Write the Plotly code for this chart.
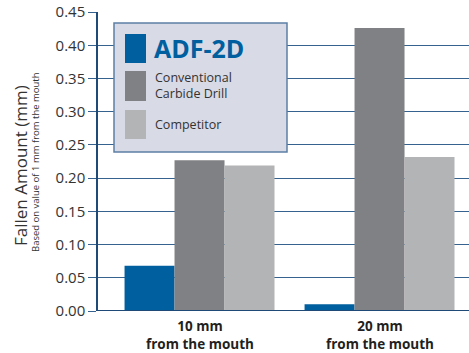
import plotly.graph_objects as go

categories = ["10 mm<br>from the mouth", "20 mm<br>from the mouth"]
series_names = ["ADF-2D", "Conventional<br>Carbide Drill", "Competitor"]
adf2d = [0.068, 0.010]
conventional = [0.227, 0.426]
competitor = [0.219, 0.232]
y_ticks = [0.00, 0.05, 0.10, 0.15, 0.20, 0.25, 0.30, 0.35, 0.40, 0.45]

colors = ["#005f9e", "#808184", "#b3b4b6"]
xpos = [0, 1]

fig = go.Figure()
for name, vals, c in zip(series_names, [adf2d, conventional, competitor], colors):
    fig.add_trace(go.Bar(x=xpos, y=vals, name=name, marker=dict(color=c, line=dict(width=0)),
                         showlegend=False))

fig.update_layout(
    width=469, height=353,
    margin=dict(l=98, r=0, t=12, b=42),
    paper_bgcolor="white", plot_bgcolor="white",
    barmode="group", bargap=0.167, bargroupgap=0,
    font=dict(family="Open Sans, Noto Sans, sans-serif", color="#333333"),
    xaxis=dict(range=[-0.564, 1.497], tickvals=xpos, showticklabels=False,
               showgrid=False, zeroline=False, showline=False, ticks=""),
    yaxis=dict(range=[0, 0.4502], tickvals=y_ticks, tickformat=".2f",
               tickfont=dict(size=15, color="#333333"),
               showgrid=True, gridcolor="#36628f", gridwidth=1.3,
               ticks="outside", ticklen=8, tickcolor="#36628f", tickwidth=1.3,
               showline=True, linecolor="#1f4a78", linewidth=1.5, zeroline=False),
)
fig.add_shape(type="line", xref="paper", yref="y", x0=0, x1=1, y0=0, y1=0,
              line=dict(color="#1f4a78", width=2))

def px(x): return (x - 98) / 371
def py(y): return (311 - y) / 299

# category labels
for xv, t in zip(xpos, categories):
    fig.add_annotation(text="<b>" + t + "</b>", xref="x", yref="paper", x=xv, y=py(335),
                       yanchor="middle", showarrow=False, font=dict(size=13.5, color="#231f20"))

# Y titles
fig.add_annotation(text="Fallen Amount (mm)", xref="paper", yref="paper", x=px(20), y=py(166),
                   textangle=-90, showarrow=False, font=dict(size=17, color="#333333"),
                   xanchor="center", yanchor="middle")
fig.add_annotation(text="Based on value of 1 mm from the mouth", xref="paper", yref="paper",
                   x=px(35), y=py(162), textangle=-90, showarrow=False,
                   font=dict(size=9.5, color="#333333"), xanchor="center", yanchor="middle")

# Legend box (manual)
fig.add_shape(type="rect", xref="paper", yref="paper", x0=px(114), x1=px(287), y0=py(152), y1=py(23),
              fillcolor="#d8dae6", line=dict(color="#5c7fa5", width=1.5), layer="above")
sw = [(34, 63), (71, 101), (110, 139)]
for (y0, y1), c in zip(sw, colors):
    fig.add_shape(type="rect", xref="paper", yref="paper", x0=px(125), x1=px(146), y0=py(y1), y1=py(y0),
                  fillcolor=c, line=dict(width=0), layer="above")
fig.add_annotation(text="<b>ADF-2D</b>", xref="paper", yref="paper", x=px(152), y=py(48),
                   xanchor="left", yanchor="middle", showarrow=False,
                   font=dict(size=25, color="#005f9e"))
fig.add_annotation(text="Conventional<br>Carbide Drill", xref="paper", yref="paper", x=px(153), y=py(86),
                   xanchor="left", yanchor="middle", showarrow=False, align="left",
                   font=dict(size=12.5, color="#333333"))
fig.add_annotation(text="Competitor", xref="paper", yref="paper", x=px(153), y=py(125),
                   xanchor="left", yanchor="middle", showarrow=False,
                   font=dict(size=12.5, color="#333333"))

fig.write_html("out.html", config={"displayModeBar": False},
               post_script="document.body.style.margin='0';document.body.style.overflow='hidden';")
